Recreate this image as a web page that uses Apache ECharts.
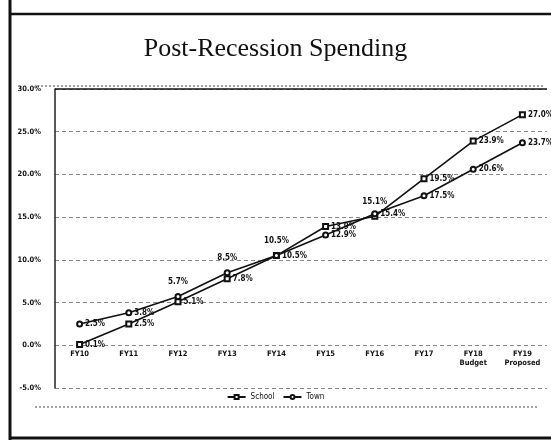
<!DOCTYPE html>
<html><head><meta charset="utf-8">
<script src="https://cdn.jsdelivr.net/npm/echarts@6/dist/echarts.min.js"></script>
<style>html,body{margin:0;padding:0;background:#fff}#c{width:551px;height:440px}</style>
</head><body><div id="c"></div>
<script>
const categories = ['FY10','FY11','FY12','FY13','FY14','FY15','FY16','FY17','FY18\nBudget','FY19\nProposed'];
const schoolValues = [0.1, 2.5, 5.1, 7.8, 10.5, 13.9, 15.1, 19.5, 23.9, 27.0];
const townValues = [2.5, 3.8, 5.7, 8.5, 10.5, 12.9, 15.4, 17.5, 20.6, 23.7];
const yTicks = {min: -5, max: 30, step: 5};

// label placement (style only)
const schoolLabelPos = ['right','right','right','right','right','right','top','right','right','right'];
const townLabelPos = ['right','right','top','top','top','right','right','right','right','right'];

const lblFont = {fontFamily: 'Liberation Sans Narrow, DejaVu Sans Condensed, sans-serif', fontWeight: 'bold', fontSize: 8, color: '#111'};

const gridTop = 89, gridBottom = 52, H = 440;
const gridH = H - gridTop - gridBottom;
// category axis crosses the value axis at 0
const zeroOffset = -gridH * (0 - yTicks.min) / (yTicks.max - yTicks.min);

function mkData(vals, pos) {
  return vals.map((v, i) => ({value: v, label: {position: pos[i], distance: pos[i] === 'top' ? 7 : 2}}));
}

const chart = echarts.init(document.getElementById('c'), null, {renderer: 'canvas'});
chart.setOption({
  animation: false,
  backgroundColor: '#fff',
  title: {
    text: 'Post-Recession Spending', left: 'center', top: 31,
    textStyle: {fontFamily: 'Liberation Serif, DejaVu Serif, serif', fontWeight: 'normal', fontSize: 26, color: '#111'}
  },
  grid: {left: 55, right: 4, top: gridTop, bottom: gridBottom, containLabel: false},
  legend: {
    top: 388, left: 'center', itemWidth: 18, itemHeight: 5, itemGap: 8,
    textStyle: {fontFamily: 'Liberation Sans Narrow, DejaVu Sans Condensed, sans-serif', fontSize: 8, color: '#111'},
    data: ['School', 'Town']
  },
  xAxis: {
    type: 'category', data: categories, boundaryGap: true, offset: zeroOffset,
    axisLine: {show: false, onZero: false},
    axisTick: {show: false},
    axisLabel: {...lblFont, fontSize: 7.5, margin: 4, interval: 0, lineHeight: 9}
  },
  yAxis: {
    type: 'value', min: yTicks.min, max: yTicks.max, interval: yTicks.step,
    axisLine: {show: true, onZero: false, lineStyle: {color: '#222', width: 1.5}},
    axisTick: {show: false},
    axisLabel: {...lblFont, fontSize: 7.5, margin: 14, formatter: v => v.toFixed(1) + '%'},
    splitLine: {lineStyle: {color: '#888', type: [4, 3], width: 1}}
  },
  series: [{
    name: 'School', type: 'line', data: mkData(schoolValues, schoolLabelPos),
    symbol: 'emptyRect', symbolSize: 5,
    lineStyle: {color: '#111', width: 1.6}, itemStyle: {color: '#111', borderWidth: 1},
    label: {show: true, ...lblFont, formatter: p => p.value.toFixed(1) + '%'},
    markLine: {
      silent: true, symbol: 'none', label: {show: false},
      lineStyle: {color: '#111', type: 'solid', width: 1.5},
      data: [{yAxis: yTicks.max}]
    }
  }, {
    name: 'Town', type: 'line', data: mkData(townValues, townLabelPos),
    symbol: 'emptyCircle', symbolSize: 5,
    lineStyle: {color: '#111', width: 1.6}, itemStyle: {color: '#111', borderWidth: 1},
    label: {show: true, ...lblFont, formatter: p => p.value.toFixed(1) + '%'}
  }],
  graphic: [
    {type: 'line', shape: {x1: 10, y1: 0, x2: 10, y2: 440}, style: {stroke: '#111', lineWidth: 3}},
    {type: 'line', shape: {x1: 9, y1: 14, x2: 551, y2: 14}, style: {stroke: '#111', lineWidth: 2.5}},
    {type: 'line', shape: {x1: 9, y1: 438, x2: 551, y2: 438}, style: {stroke: '#111', lineWidth: 3}},
    {type: 'line', shape: {x1: 37, y1: 86, x2: 545, y2: 86}, style: {stroke: '#444', lineWidth: 1, lineDash: [2, 2]}},
    {type: 'line', shape: {x1: 35, y1: 407, x2: 537, y2: 407}, style: {stroke: '#444', lineWidth: 1, lineDash: [2, 2]}}
  ]
});
</script></body></html>
